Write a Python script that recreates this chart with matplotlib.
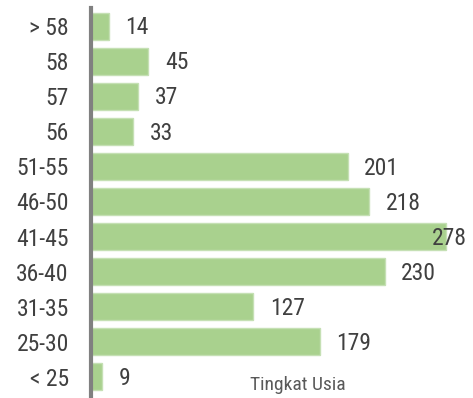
import matplotlib
matplotlib.use("Agg")
import matplotlib.pyplot as plt

categories = ["> 58", "58", "57", "56", "51-55", "46-50", "41-45", "36-40", "31-35", "25-30", "< 25"]
counts = [14, 45, 37, 33, 201, 218, 278, 230, 127, 179, 9]
axis_title = "Tingkat Usia"

plt.rcParams["font.family"] = ["Roboto Condensed", "DejaVu Sans"]

fig = plt.figure(figsize=(4.73, 3.98), dpi=100)
ax = fig.add_axes([91 / 473, 3.5 / 398, 382 / 473, 386 / 398])

y = list(range(len(categories)))
ax.barh(y, counts, height=0.77, color="#a9d18e", edgecolor="#c5e0b4", linewidth=1)
ax.set_ylim(len(categories) - 0.5, -0.5)
ax.set_xlim(0, 278 * 382 / 355)

ax.set_yticks(y)
ax.set_yticklabels(categories, fontsize=17, color="#404040")
ax.tick_params(axis="y", length=0, pad=16)
ax.set_xticks([])

for s in ["top", "right", "bottom"]:
    ax.spines[s].set_visible(False)
ax.spines["left"].set_color("#808080")
ax.spines["left"].set_linewidth(3)
ax.spines["left"].set_bounds(-0.5, len(categories) - 0.4)

# value labels sit just right of each bar, pulled back near the right edge
xmax = 267
for yi, v in zip(y, counts):
    ax.text(min(v + 13, xmax), yi + 0.05, str(v), va="center", ha="left",
            fontsize=17, color="#404040")

fig.text(250 / 473, 1 - 385 / 398, axis_title, fontsize=14, color="#595959",
         va="center", ha="left")

fig.savefig("out.png", dpi=100)
